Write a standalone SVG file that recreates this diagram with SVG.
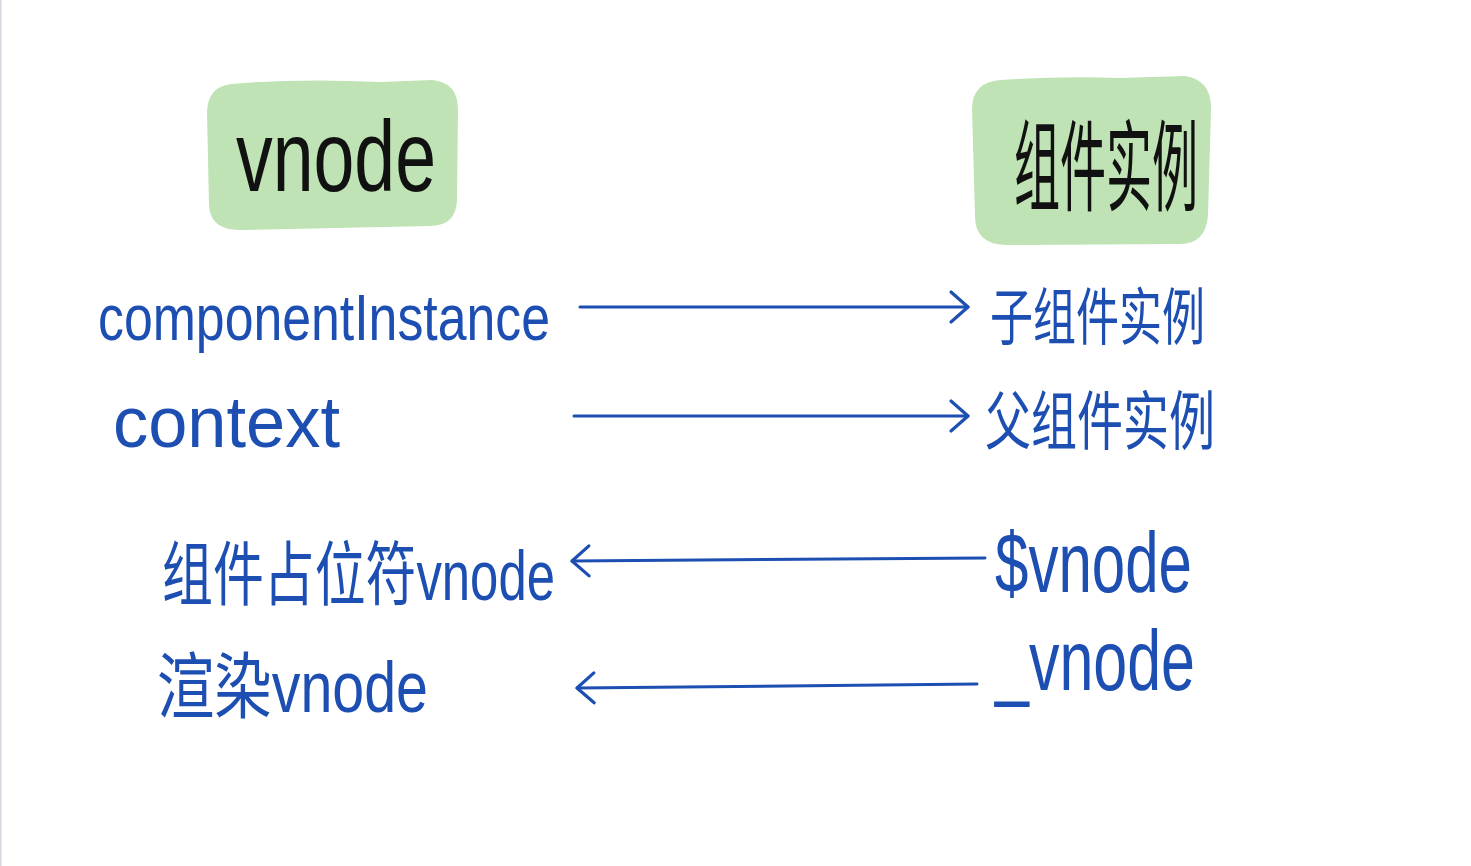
<svg xmlns="http://www.w3.org/2000/svg" width="1471" height="866" viewBox="0 0 1471 866">
  <style>
    .blob { fill: #bfe3b4; }
    .head { font-family: "Liberation Sans", "Noto Sans CJK SC", sans-serif; fill: #111111; }
    .lbl { font-family: "Liberation Sans", "Noto Sans CJK SC", sans-serif; fill: #1d4fb3; }
    .conn { stroke: #1d4fb3; stroke-width: 3; fill: none; stroke-linecap: round; }
  </style>
  <defs>
    <marker id="chev" viewBox="0 0 24 36" refX="21" refY="18" markerWidth="24" markerHeight="36" markerUnits="userSpaceOnUse" orient="auto">
      <polyline points="4,3 21,18 4,33" fill="none" stroke="#1d4fb3" stroke-width="3.2" stroke-linecap="round" stroke-linejoin="round"/>
    </marker>
  </defs>
  <rect x="0" y="0" width="1471" height="866" fill="#ffffff"/>
  <rect x="0" y="0" width="1.5" height="866" fill="#d6d6de"/>

  <g id="node-vnode">
    <path class="blob" d="M232,84 Q300,78 380,82 L432,80 Q458,82 458,110 L457,200 Q456,226 430,226 L240,230 Q210,230 209,205 L207,112 Q208,86 232,84 Z"/>
    <text class="head" x="236" y="191" font-size="100" textLength="200" lengthAdjust="spacingAndGlyphs">vnode</text>
  </g>

  <g id="node-instance">
    <path class="blob" d="M1000,80 Q1060,76 1120,78 L1185,76 Q1212,80 1211,110 L1208,215 Q1206,244 1180,244 L1005,245 Q975,244 975,216 L972,108 Q973,82 1000,80 Z"/>
    <text class="head" x="1014" y="203" font-size="60" textLength="184" lengthAdjust="spacingAndGlyphs" transform="translate(0,-132) scale(1,1.65)" style="transform-origin:0 0">组件实例</text>
  </g>

  <g id="node-componentInstance">
    <text class="lbl" x="98" y="340" font-size="64" textLength="452" lengthAdjust="spacingAndGlyphs">componentInstance</text>
  </g>
  <g id="node-child">
    <text class="lbl" x="990" y="340" font-size="62" textLength="215" lengthAdjust="spacingAndGlyphs">子组件实例</text>
  </g>
  <g id="node-context">
    <text class="lbl" x="113" y="447" font-size="72" textLength="227" lengthAdjust="spacingAndGlyphs">context</text>
  </g>
  <g id="node-parent">
    <text class="lbl" x="985" y="444" font-size="64" textLength="230" lengthAdjust="spacingAndGlyphs">父组件实例</text>
  </g>
  <g id="node-placeholder">
    <text class="lbl" x="162" y="600" font-size="70" textLength="393" lengthAdjust="spacingAndGlyphs">组件占位符vnode</text>
  </g>
  <g id="node-dollar-vnode">
    <text class="lbl" x="995" y="592" font-size="86" textLength="197" lengthAdjust="spacingAndGlyphs">$vnode</text>
  </g>
  <g id="node-render">
    <text class="lbl" x="157" y="712" font-size="72" textLength="271" lengthAdjust="spacingAndGlyphs">渲染vnode</text>
  </g>
  <g id="node-underscore-vnode">
    <text class="lbl" x="995" y="690" font-size="86" textLength="200" lengthAdjust="spacingAndGlyphs">_vnode</text>
  </g>

  <g id="connectors">
    <line class="conn" x1="580" y1="307" x2="968" y2="307" marker-end="url(#chev)"/>
    <line class="conn" x1="574" y1="416" x2="968" y2="416" marker-end="url(#chev)"/>
    <line class="conn" x1="985" y1="558" x2="572" y2="561" marker-end="url(#chev)"/>
    <line class="conn" x1="977" y1="684" x2="577" y2="688" marker-end="url(#chev)"/>
  </g>
</svg>
